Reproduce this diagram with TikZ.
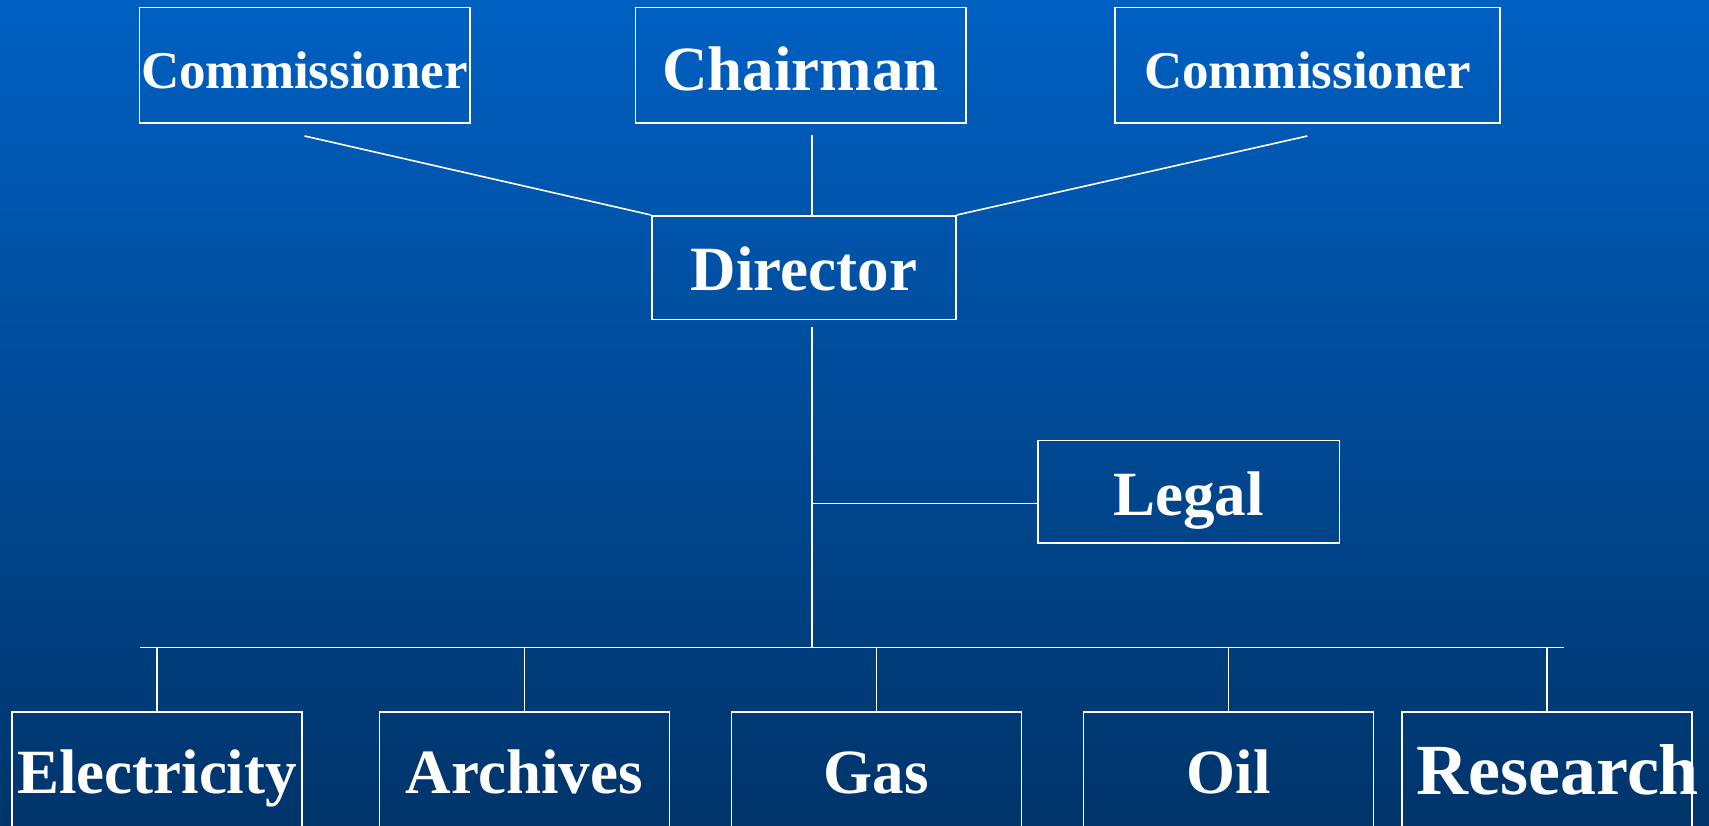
\documentclass[tikz,border=0pt]{standalone}
\usepackage{fontspec}
\setmainfont{Liberation Serif}
\definecolor{bgtop}{RGB}{0,96,194}
\definecolor{bgbot}{RGB}{0,52,106}
\begin{document}
\begin{tikzpicture}[x=1pt,y=-1pt,
  box/.style={draw=white, line width=1.6pt, inner sep=0pt, text=white,
    font=\bfseries\fontsize{63}{63}\selectfont, text depth=0pt},
  link/.style={draw=white, line width=1.6pt}]
\useasboundingbox (0,0) rectangle (1709,826);
\clip (0,0) rectangle (1709,826);
\shade[top color=bgtop, bottom color=bgbot] (0,0) rectangle (1709,826);
% top row
\node[box, minimum width=330.3pt, minimum height=115.6pt, text height=45.8pt,
  font=\bfseries\fontsize{53}{53}\selectfont] (c1) at (304.6,65.4) {Commissioner};
\node[box, minimum width=330.2pt, minimum height=115.6pt, text height=50.2pt] (ch) at (800.6,65.4) {Chairman};
\node[box, minimum width=384.8pt, minimum height=115.6pt, text height=45.8pt,
  font=\bfseries\fontsize{53}{53}\selectfont] (c2) at (1307.4,65.4) {Commissioner};
% director and legal
\node[box, minimum width=304.1pt, minimum height=103.6pt, text height=46.2pt] (dir) at (803.9,267.6) {Director};
\node[box, minimum width=301.9pt, minimum height=102.4pt, text height=46.8pt] (legal) at (1188.7,491.6) {Legal};
% bottom row
\node[box, minimum width=290pt, minimum height=140pt, text height=22.4pt] (elec) at (157,781.8) {Electricity};
\node[box, minimum width=290pt, minimum height=140pt, text height=22.4pt] (arch) at (524.3,781.8) {Archives};
\node[box, minimum width=290pt, minimum height=140pt, text height=22.4pt] (gas) at (876.4,781.8) {Gas};
\node[box, minimum width=290pt, minimum height=140pt, text height=22.4pt] (oil) at (1228.5,781.8) {Oil};
\node[box, minimum width=290pt, minimum height=140pt, text height=26pt,
  font=\bfseries\fontsize{72}{72}\selectfont] (res) at (1546.7,781.8) {\kern11pt Research\kern-11pt};
% connector points
\coordinate (c1s) at ([yshift=-12pt]c1.south);
\coordinate (c2s) at ([yshift=-12pt]c2.south);
\coordinate (chs) at (812,135.2);
\coordinate (dirs) at (812,327);
\coordinate (lj) at (812,503.6);
\coordinate (busL) at (139.5,647.5);
\coordinate (busR) at (1564,647.5);
\coordinate (busM) at (812,647.5);
% connectors
\draw[link] (c1s) -- (dir.north west);
\draw[link] (c2s) -- (dir.north east);
\draw[link] (chs) -- (chs |- dir.north);
\draw[link] (dirs) -- (busM);
\draw[link] (lj) -- (lj -| legal.west);
\draw[link] (busL) -- (busR);
\foreach \n in {elec,arch,gas,oil,res}{
  \draw[link] (\n.north) -- (\n.north |- busL);
}
\end{tikzpicture}
\end{document}
